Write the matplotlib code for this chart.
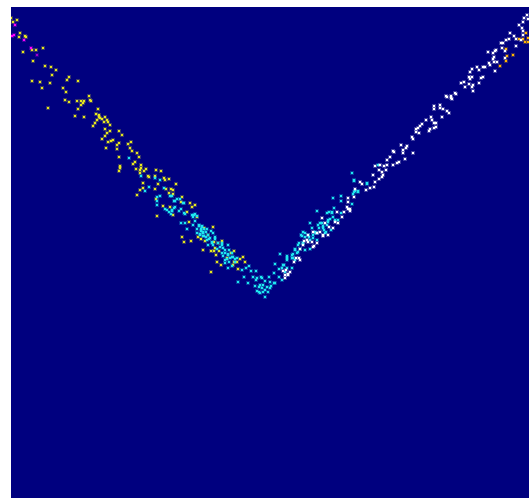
import matplotlib
matplotlib.use("Agg")
import matplotlib.pyplot as plt

# point positions, as (x, y) in image coordinates
magenta_pts = [(15, 25), (12, 36), (14, 35), (24, 40), (31, 48)]
purple_pts = [(37, 55)]

yellow_pts = [
    (11, 18), (17, 20), (13, 22), (20, 33), (19, 37), (25, 36), (26, 37), (32, 50), (36, 50), (43, 48),
    (23, 52), (33, 61), (45, 66), (51, 67), (56, 70), (52, 75), (69, 77), (67, 80), (78, 81), (32, 81),
    (40, 82), (50, 83), (42, 88), (63, 88), (66, 92), (89, 96), (65, 100), (69, 102), (77, 101), (81, 101),
    (84, 101), (83, 103), (81, 105), (90, 100), (48, 108), (78, 109), (98, 109), (75, 116), (84, 117), (96, 114),
    (99, 115), (99, 117), (100, 118), (102, 119), (97, 120), (105, 117), (107, 120), (108, 122), (104, 122), (95, 123),
    (110, 125), (93, 126), (105, 129), (91, 101), (119, 131), (110, 131), (107, 133), (122, 135), (105, 136), (102, 139),
    (113, 140), (111, 141), (108, 142), (131, 142), (119, 143), (128, 144), (117, 145), (106, 148), (130, 148), (117, 149),
    (132, 151), (137, 153), (139, 157), (119, 157), (135, 162), (133, 164), (141, 165), (120, 166), (120, 168), (136, 169),
    (141, 168), (140, 170), (146, 169), (144, 171), (119, 171), (156, 170), (161, 171), (140, 173), (148, 176), (149, 177),
    (155, 176), (164, 178), (169, 179), (165, 180), (143, 183), (176, 184), (158, 184), (143, 188), (140, 190), (155, 189),
    (166, 189), (171, 189), (173, 190), (169, 193), (173, 194), (137, 195), (182, 197), (156, 199), (181, 202), (190, 203),
    (195, 205), (192, 207), (163, 206), (170, 207), (187, 212), (173, 215), (157, 216), (197, 217), (189, 222), (182, 237),
    (184, 242), (191, 241), (203, 250), (211, 251), (214, 251), (216, 255), (234, 251), (231, 253), (213, 227), (204, 228),
    (208, 235), (198, 237), (201, 239), (205, 241), (218, 243), (222, 241), (214, 242), (215, 248), (227, 258), (219, 251),
    (217, 262), (221, 265), (234, 262), (237, 262), (240, 259), (243, 257), (245, 262), (238, 269), (211, 272), (233, 265),
]

cyan_pts = [
    (129, 158), (141, 176), (155, 178), (160, 180), (149, 187), (145, 191), (164, 188), (170, 196), (172, 196), (160, 196),
    (157, 197), (177, 199), (180, 199), (174, 201), (184, 203), (157, 201), (157, 205), (165, 209), (167, 210), (174, 208),
    (181, 209), (179, 211), (172, 211), (169, 212), (171, 214), (185, 214), (192, 215), (195, 214), (197, 216), (193, 217),
    (172, 210), (175, 207), (183, 203), (175, 201), (184, 213), (194, 215), (195, 221), (193, 225), (181, 223), (185, 223),
    (187, 229), (199, 225), (202, 226), (197, 229), (201, 229), (203, 232), (207, 229), (211, 231), (197, 233), (200, 234),
    (203, 236), (213, 233), (209, 239), (206, 237), (215, 237), (212, 243), (208, 245), (222, 245), (228, 245), (225, 250),
    (229, 250), (223, 256), (228, 254), (232, 257), (225, 260), (229, 262), (235, 259), (228, 268), (232, 266), (242, 270),
    (246, 268), (249, 266), (251, 271), (256, 271), (244, 277), (238, 282), (248, 283), (253, 277), (256, 280), (261, 277),
    (255, 286), (259, 287), (263, 285), (265, 281), (269, 277), (270, 282), (274, 283), (274, 273), (279, 269), (275, 264),
    (280, 254), (279, 277), (262, 288), (267, 287), (260, 293), (265, 297), (263, 292), (268, 292), (271, 286), (257, 291),
    (257, 278), (262, 278), (275, 283), (282, 280), (283, 265), (287, 256), (287, 260), (292, 255), (292, 268), (293, 258),
    (295, 250), (298, 252), (300, 249), (299, 243), (303, 243), (305, 250), (310, 249), (302, 236), (305, 233), (309, 237),
    (310, 223), (317, 211), (312, 228), (317, 240), (318, 225), (322, 223), (323, 228), (325, 233), (328, 220), (329, 212),
    (332, 212), (333, 217), (334, 208), (335, 220), (338, 220), (341, 213), (333, 198), (341, 196), (341, 201), (352, 204),
    (353, 194), (355, 191), (358, 192), (265, 290), (260, 285), (270, 288), (259, 292), (354, 181), (367, 183), (352, 173),
    (354, 180), (367, 184), (358, 191), (354, 192), (378, 165),
    # denser parts of the two arms
    (199, 226), (202, 227), (204, 229), (201, 231), (203, 233), (206, 232), (200, 235), (204, 236), (208, 235), (210, 238),
    (207, 240), (212, 242), (215, 239), (213, 245), (218, 243), (222, 243), (220, 247), (223, 248), (217, 249), (225, 253),
    (222, 253), (228, 255), (232, 253), (230, 258), (233, 257), (227, 259), (225, 263), (235, 262), (237, 258),
    (303, 232), (301, 235), (305, 237), (308, 235), (313, 238), (310, 240), (316, 233), (303, 243), (298, 245), (295, 249),
    (293, 254), (297, 253), (292, 258), (295, 260), (287, 258), (284, 265), (287, 268), (282, 268), (285, 272),
    (320, 223), (323, 226), (319, 228), (324, 230), (327, 225), (328, 222), (326, 232), (330, 219), (315, 232), (317, 233),
    (313, 235), (331, 230), (327, 213), (332, 213),
]

white_pts = [
    (285, 278), (283, 271), (290, 272), (288, 275), (300, 260), (294, 262), (303, 245), (307, 240), (314, 246), (312, 242),
    (317, 243), (308, 235), (313, 232), (317, 233), (322, 218), (323, 236), (328, 235), (333, 228), (329, 227), (338, 223),
    (342, 217), (337, 212), (344, 212), (348, 209), (350, 211), (348, 198), (354, 197), (348, 202), (355, 189), (360, 182),
    (362, 184), (366, 190), (370, 188), (374, 187), (375, 182), (379, 179), (382, 177), (383, 175), (373, 175), (379, 170),
    (382, 172), (386, 170), (375, 166), (380, 165), (384, 166), (387, 165), (393, 165), (397, 163), (399, 162), (405, 159),
    (387, 160), (390, 157), (393, 151), (394, 152), (403, 153), (403, 150), (406, 148), (407, 146), (401, 145), (413, 153),
    (412, 137), (413, 139), (416, 132), (419, 133), (416, 129), (418, 128), (420, 126), (422, 124), (426, 120), (429, 131),
    (430, 129), (434, 128), (436, 127), (431, 117), (432, 120), (434, 123), (436, 123), (442, 117), (434, 106), (434, 109),
    (440, 105), (440, 108), (443, 109), (447, 111), (449, 113), (446, 96), (451, 96), (451, 98), (455, 93), (456, 94),
    (447, 97), (452, 99), (473, 91), (461, 83), (464, 82), (465, 87), (469, 84), (473, 85), (472, 87), (479, 83),
    (470, 79), (472, 77), (469, 77), (481, 78), (483, 77), (470, 72), (472, 69), (477, 67), (479, 70), (483, 67),
    (485, 67), (495, 71), (489, 63), (490, 65), (493, 59), (494, 62), (497, 62), (494, 57), (488, 52), (493, 53),
    (495, 51), (496, 50), (502, 48), (505, 51), (505, 58), (501, 43), (503, 43), (506, 40), (509, 39), (516, 39),
    (516, 46), (510, 33), (514, 36), (519, 25), (522, 28), (523, 22), (524, 18), (527, 15), (523, 31), (523, 35),
    (521, 40), (528, 19),
    (304, 241), (308, 242), (313, 247), (300, 249), (296, 258), (299, 258), (285, 275), (288, 274), (286, 270),
    (325, 223), (320, 232), (323, 235), (335, 222), (347, 207), (350, 209),
]

orange_pts = [(506, 49), (507, 56), (506, 61), (513, 55), (500, 66), (519, 39), (523, 39), (525, 42), (526, 33), (528, 38), (528, 42)]

groups = [
    (yellow_pts, "#e6e61e"),
    (orange_pts, "#ffb400"),
    (cyan_pts, "#1ee6f0"),
    (white_pts, "#ffffff"),
    (magenta_pts, "#ff00ff"),
    (purple_pts, "#a000d0"),
]

fig = plt.figure(figsize=(5.29, 4.98), dpi=100)
ax = fig.add_axes([11 / 529, 0, 518 / 529, 491 / 498], facecolor="#00007f")

for pts, col in groups:
    xs = [p[0] for p in pts]
    ys = [p[1] for p in pts]
    # faint halo, the reference has soft edges around each point
    ax.scatter(xs, ys, s=6.5, marker="s", color=col, alpha=0.25, linewidths=0)
    ax.scatter(xs, ys, s=3, marker="s", color=col, linewidths=0)

ax.set_xlim(11, 529)
ax.set_ylim(498, 7)
ax.set_xticks([])
ax.set_yticks([])
for s in ax.spines.values():
    s.set_visible(False)

plt.savefig("out.png", dpi=100)
